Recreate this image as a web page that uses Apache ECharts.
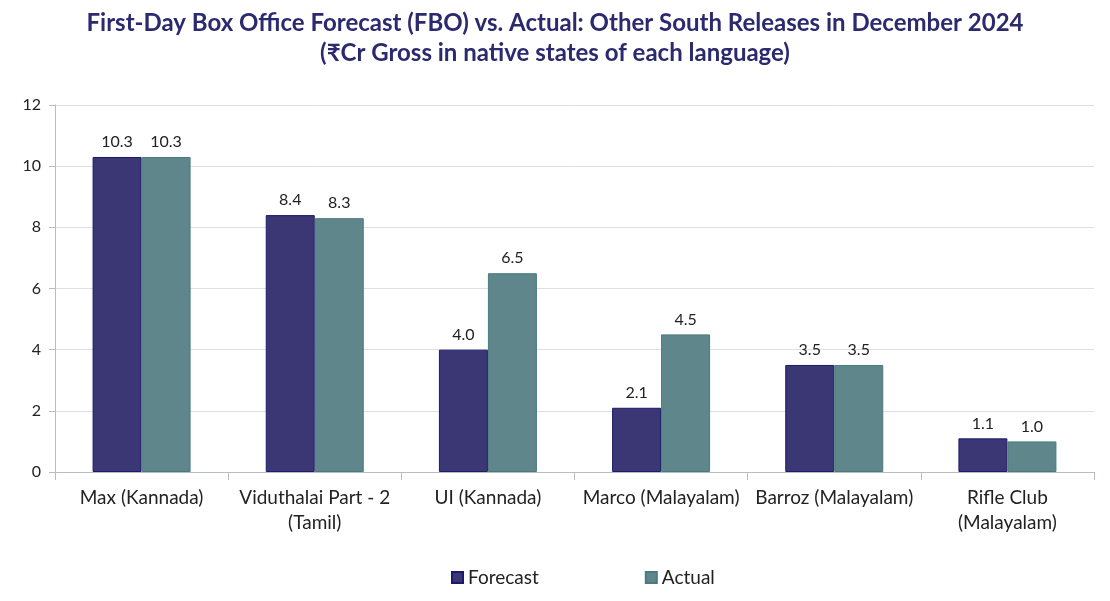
<!DOCTYPE html>
<html><head><meta charset="utf-8">
<script src="https://cdn.jsdelivr.net/npm/echarts@6/dist/echarts.min.js"></script>
<style>html,body{margin:0;padding:0;background:#fff}#c{width:1110px;height:601px}</style>
</head><body><div id="c"></div>
<script>
const categories = ["Max (Kannada)", "Viduthalai Part - 2\n(Tamil)", "UI (Kannada)", "Marco (Malayalam)", "Barroz (Malayalam)", "Rifle Club\n(Malayalam)"];
const forecast = [10.3, 8.4, 4.0, 2.1, 3.5, 1.1];
const actual = [10.3, 8.3, 6.5, 4.5, 3.5, 1.0];
const yTicks = [0, 2, 4, 6, 8, 10, 12];
const font = "Lato, 'Open Sans', sans-serif";
const chart = echarts.init(document.getElementById('c'), null, {renderer: 'canvas'});
const lbl = {show: true, position: 'top', distance: 7, color: '#222', fontSize: 16, fontFamily: font, formatter: p => p.value.toFixed(1)};
chart.setOption({
  animation: false,
  title: {
    text: "First-Day Box Office Forecast (FBO) vs. Actual: Other South Releases in December 2024\n(₹Cr Gross in native states of each language)",
    left: 'center', top: 3,
    textStyle: {color: '#2c2a6e', fontSize: 24, fontWeight: 'bold', fontFamily: font, lineHeight: 30}
  },
  legend: {
    bottom: 9, left: 446, itemGap: 106, itemWidth: 11, itemHeight: 11,
    icon: 'rect',
    textStyle: {fontSize: 19, color: '#222', fontFamily: font},
    data: ['Forecast', 'Actual']
  },
  grid: {left: 55, right: 16, top: 105, bottom: 129, containLabel: false},
  xAxis: {
    type: 'category', data: categories,
    axisLine: {lineStyle: {color: '#b8bcc6'}},
    axisTick: {show: true, length: 8, lineStyle: {color: '#b8bcc6'}},
    axisLabel: {color: '#222', fontSize: 19, fontFamily: font, margin: 13, lineHeight: 25, interval: 0}
  },
  yAxis: {
    type: 'value', min: yTicks[0], max: yTicks[yTicks.length - 1], interval: 2,
    axisLine: {show: true, lineStyle: {color: '#b8bcc6'}},
    axisTick: {show: true, length: 6, lineStyle: {color: '#b8bcc6'}},
    axisLabel: {color: '#222', fontSize: 16, fontFamily: font, margin: 14},
    splitLine: {lineStyle: {color: '#dcdfe3'}}
  },
  series: [
    {name: 'Forecast', type: 'bar', data: forecast, barWidth: 49, barGap: '0%',
     itemStyle: {color: '#3b3674', borderColor: '#1d1a6b', borderWidth: 1}, label: lbl},
    {name: 'Actual', type: 'bar', data: actual, barWidth: 49,
     itemStyle: {color: '#5f868b', borderColor: '#4a7a80', borderWidth: 1}, label: lbl}
  ]
});
</script></body></html>
